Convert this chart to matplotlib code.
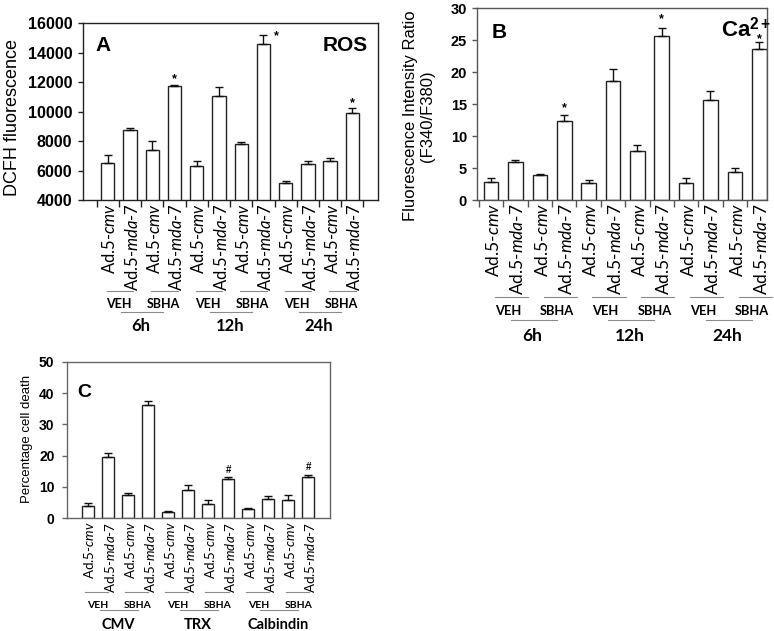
import numpy as np
import matplotlib.pyplot as plt
from matplotlib import transforms

plt.rcParams['mathtext.fontset'] = 'custom'
plt.rcParams['mathtext.rm'] = 'Lato'
plt.rcParams['mathtext.it'] = 'Lato:italic'
plt.rcParams['mathtext.bf'] = 'Liberation Sans:bold'

# bar order inside every group: cmv / mda-7 with VEH, then cmv / mda-7 with SBHA
vectors = ['cmv', 'mda-7', 'cmv', 'mda-7'] * 3
treatments = ['VEH', 'SBHA']
times = ['6h', '12h', '24h']
proteins = ['CMV', 'TRX', 'Calbindin']

ros = [6530, 8720, 7370, 11750, 6280, 11050, 7770, 14580, 5130, 6420, 6620, 9940]
ros_err = [500, 140, 610, 90, 340, 650, 200, 650, 160, 200, 200, 340]
ros_star = [3, 7, 11]

ca = [2.85, 5.9, 3.86, 12.4, 2.7, 18.6, 7.7, 25.7, 2.7, 15.65, 4.45, 23.7]
ca_err = [0.55, 0.35, 0.25, 0.85, 0.45, 1.85, 0.9, 1.2, 0.7, 1.35, 0.5, 1.05]
ca_star = [3, 7, 11]

death = [3.9, 19.5, 7.5, 36.1, 1.9, 9.0, 4.7, 12.4, 2.95, 6.3, 5.85, 13.1]
death_err = [0.85, 1.2, 0.65, 1.2, 0.55, 1.5, 1.25, 0.75, 0.25, 0.7, 1.45, 0.85]
death_hash = [7, 11]

W, H = 774, 631
fig = plt.figure(figsize=(W / 100, H / 100), dpi=100)


def box(left, top, right, bottom):
    # pixel box -> figure fraction axes
    return fig.add_axes([left / W, 1 - bottom / H, (right - left) / W, (bottom - top) / H])


def below(ax, px, dx_px=0):
    base = transforms.blended_transform_factory(ax.transData, ax.transAxes)
    return base + transforms.ScaledTranslation(dx_px / 100, -px / 100, fig.dpi_scale_trans)


def label_text(v):
    return 'Ad.5-' + '-'.join(f'$\\mathit{{{p}}}$' for p in v.split('-'))


def bars(ax, vals, errs, spine, tick_fs, tick_pad, xticks=True):
    x = np.arange(len(vals))
    ax.bar(x, vals, width=0.6, color='white', edgecolor='#222222', linewidth=1.0, zorder=2)
    ax.errorbar(x, vals, yerr=[np.zeros(len(errs)), errs], fmt='none', ecolor='#111111',
                elinewidth=1.0, capsize=3, capthick=1.0, zorder=3)
    for s in ax.spines.values():
        s.set_color(spine)
        s.set_linewidth(1.0)
    ax.tick_params(axis='y', direction='out', length=3.6, width=1, color=spine,
                   labelsize=tick_fs, pad=tick_pad)
    for t in ax.get_yticklabels():
        t.set_fontfamily('Liberation Sans')
        t.set_fontweight('bold')
    if xticks:
        ax.set_xticks(np.arange(-0.5, len(vals), 1))
        ax.tick_params(axis='x', direction='out', length=5, width=1, color=spine, labelbottom=False)
    else:
        ax.set_xticks([])
    return x


def under(ax, names, lab_fs, sub_fs, grp_fs, top, l1, span, sub_y, l2, grp_y, dx):
    # rotated labels: nudge right so the glyphs, not the line box, sit on the bar
    nudge = lab_fs * 0.18
    for i, v in enumerate(vectors):
        ax.text(i, 0, label_text(v), transform=below(ax, top, nudge), rotation=90, ha='center',
                va='top', fontsize=lab_fs, family='Lato')
    for g, name in enumerate(names):
        i0 = g * 4
        for k, tr in enumerate(treatments):
            j = i0 + 2 * k
            ax.plot([j + span[0], j + span[1]], [0, 0], transform=below(ax, l1),
                    color='#8a8a8a', lw=0.8, clip_on=False)
            ax.text(j + 0.5 + dx, 0, tr, transform=below(ax, sub_y), ha='center', va='center',
                    fontsize=sub_fs, fontweight='bold', family='Lato')
        ax.plot([i0 + 0.5 + dx + 0.1, i0 + 2.5 + dx], [0, 0], transform=below(ax, l2),
                color='#8a8a8a', lw=0.8, clip_on=False)
        ax.text(i0 + 1.5 + dx, 0, name, transform=below(ax, grp_y), ha='center', va='center',
                fontsize=grp_fs, fontweight='bold', family='Lato')


def marks(ax, vals, errs, idx, sym, fs, offsets):
    for i, off in zip(idx, offsets):
        ax.annotate(sym, (i, vals[i] + errs[i]), xytext=off, textcoords='offset points',
                    ha='center', va='baseline', fontsize=fs, fontweight='bold',
                    family='Liberation Sans')


# ---- A: ROS
axA = box(83.3, 23.3, 377.7, 200)
axA.set_ylim(4000, 16000)
axA.set_yticks(range(4000, 16001, 2000))
bars(axA, ros, ros_err, '#222222', 11.5, 4.2)
axA.set_xlim(-1.1, 12.14)
under(axA, times, 12, 9, 12, 3, 91, (-0.05, 1.15), 104, 112, 126, 0.0)
marks(axA, ros, ros_err, ros_star, '*', 9, [(0, 2), (9, -3), (0, 1)])
axA.text(0.04, 0.93, 'A', transform=axA.transAxes, ha='left', va='top', fontsize=15,
         fontweight='bold', family='Liberation Sans')
axA.text(0.965, 0.93, 'ROS', transform=axA.transAxes, ha='right', va='top', fontsize=15,
         fontweight='bold', family='Liberation Sans')
fig.text(12.5 / W, 1 - 118 / H, 'DCFH fluorescence', rotation=90, ha='center', va='center',
         fontsize=13, family='Liberation Sans')

# ---- B: Ca2+
axB = box(476.7, 8.3, 767.5, 200)
axB.set_ylim(0, 30)
axB.set_yticks(range(0, 31, 5))
bars(axB, ca, ca_err, '#555555', 10.5, 3.4)
axB.set_xlim(-0.59, 11.34)
under(axB, times, 12.5, 9.3, 12.5, 3, 97, (0.16, 1.52), 111, 120, 136, 0.2)
marks(axB, ca, ca_err, ca_star, '*', 9, [(0, 3), (0, 4), (0, 0)])
axB.text(0.053, 0.925, 'B', transform=axB.transAxes, ha='left', va='top', fontsize=15,
         fontweight='bold', family='Liberation Sans')
axB.text(1.012, 0.955, 'Ca$^{\\mathbf{2+}}$', transform=axB.transAxes, ha='right', va='top',
         fontsize=16, fontweight='bold', family='Liberation Sans')
fig.text(419 / W, 1 - 116 / H, 'Fluorescence Intensity Ratio\n(F340/F380)', rotation=90,
         ha='center', va='center', multialignment='center', linespacing=1.1,
         fontsize=12, family='Liberation Sans')

# ---- C: cell death
axC = box(66.7, 361.7, 330, 518.3)
axC.set_ylim(0, 50)
axC.set_yticks(range(0, 51, 10))
bars(axC, death, death_err, '#666666', 10, 5.2, xticks=False)
axC.set_xlim(-1.05, 12.08)
under(axC, proteins, 9.6, 7.5, 10.5, 3.4, 74, (-0.13, 1.02), 87, 92, 107, 0.0)
marks(axC, death, death_err, death_hash, '#', 7, [(0, 3), (0, 3)])
axC.text(0.04, 0.86, 'C', transform=axC.transAxes, ha='left', va='top', fontsize=14,
         fontweight='bold', family='Liberation Sans')
fig.text(27 / W, 1 - 439 / H, 'Percentage cell death', rotation=90, ha='center', va='center',
         fontsize=9.5, family='Liberation Sans')

fig.savefig('out.png', dpi=100)
